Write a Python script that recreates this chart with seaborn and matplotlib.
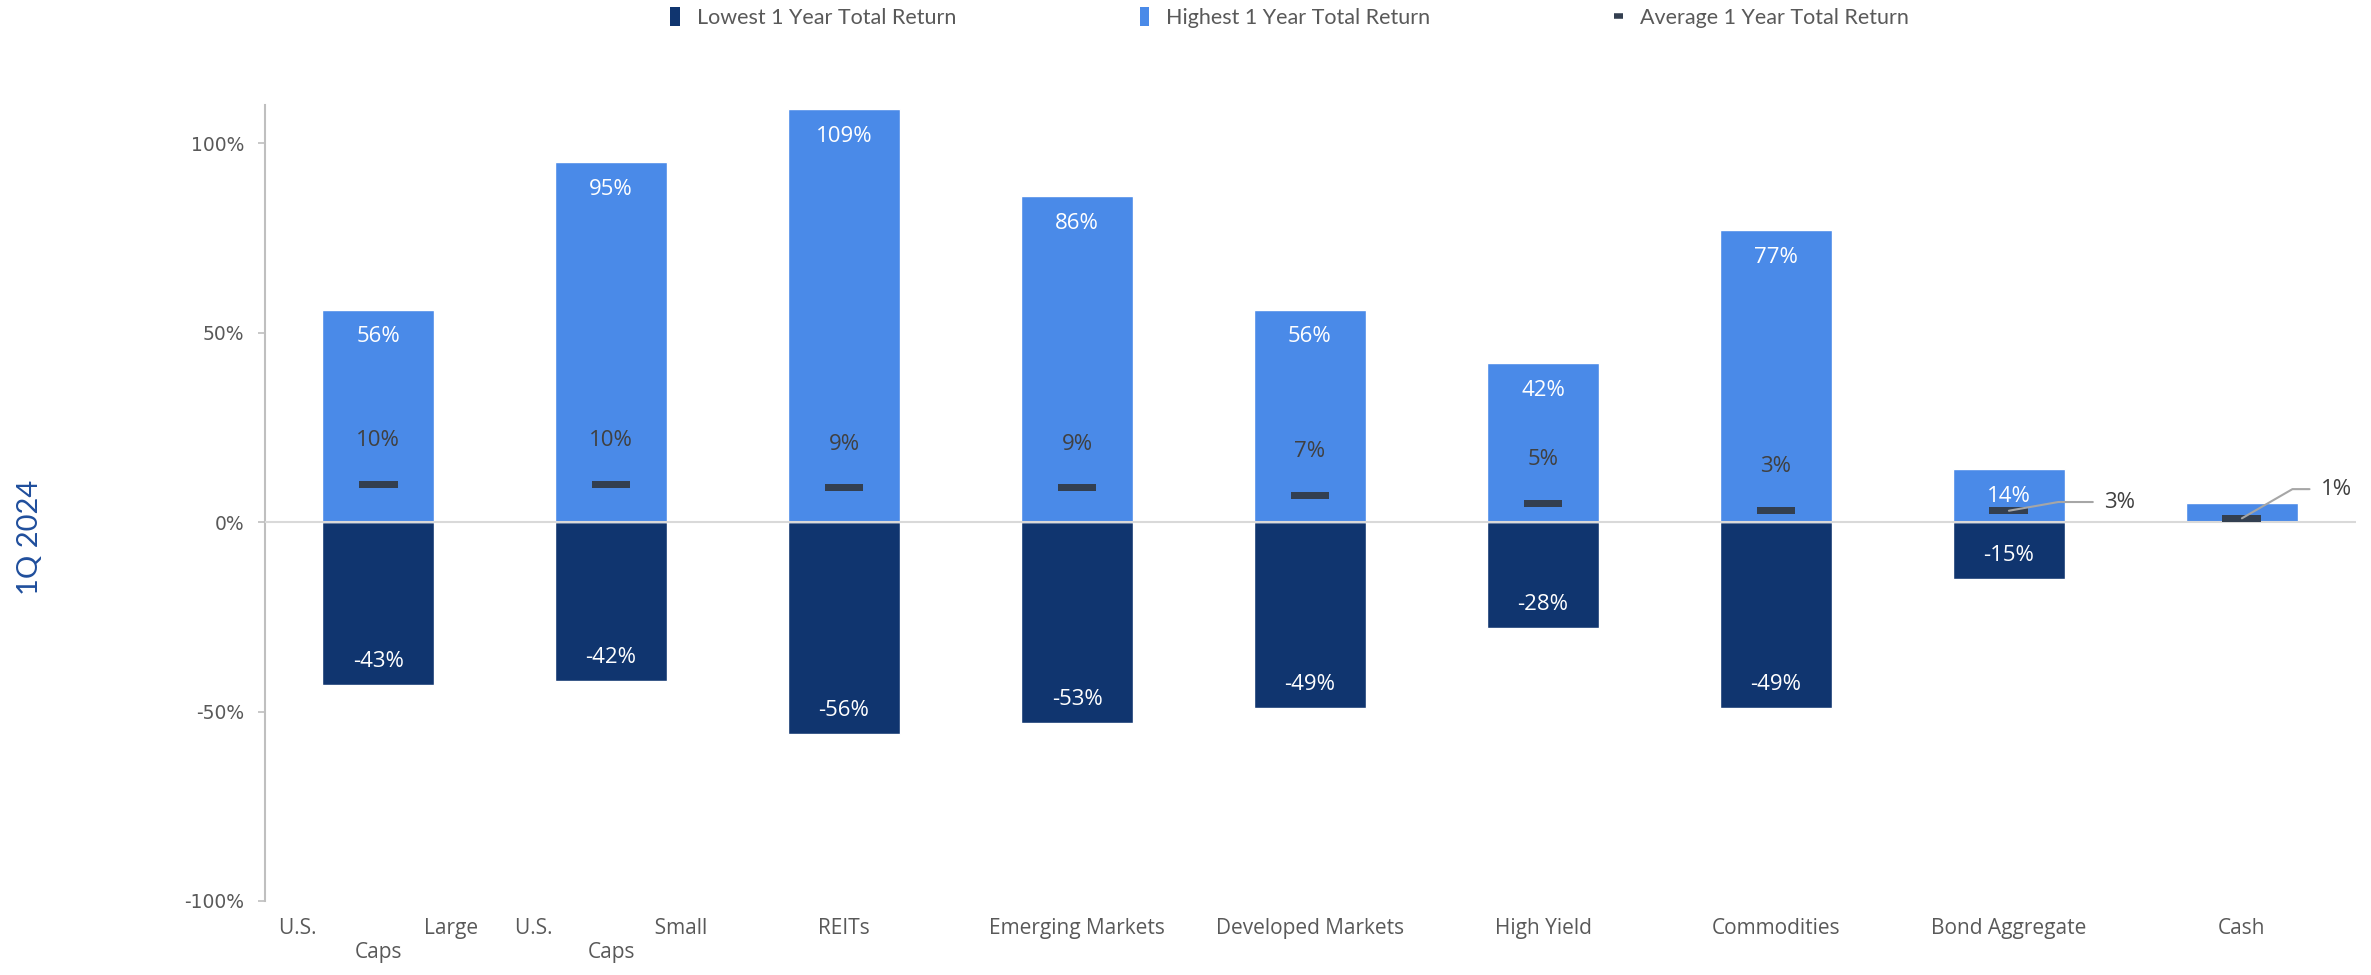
import matplotlib
matplotlib.use("Agg")
import matplotlib.pyplot as plt
from matplotlib.patches import Patch
from matplotlib.lines import Line2D
from matplotlib.ticker import FuncFormatter
import seaborn as sns
import pandas as pd

# Asset classes and their 1-year total return ranges (%)
categories = [
    "U.S. Large Caps", "U.S. Small Caps", "REITs", "Emerging Markets",
    "Developed Markets", "High Yield", "Commodities", "Bond Aggregate", "Cash",
]
tick_labels = [
    "U.S." + " " * 20 + "Large\nCaps",
    "U.S." + " " * 19 + "Small\nCaps",
    "REITs", "Emerging Markets", "Developed Markets", "High Yield",
    "Commodities", "Bond Aggregate", "Cash",
]
highest = [56, 95, 109, 86, 56, 42, 77, 14, 5]
lowest = [-43, -42, -56, -53, -49, -28, -49, -15, 0]
average = [10, 10, 9, 9, 7, 5, 3, 3, 1]

DARK = "#10356F"
LIGHT = "#4A8AE8"
MARK = "#333F50"
GRID = "#D9D9D9"
AXIS = "#BFBFBF"
TXT = "#595959"
LBL = "#404040"

df = pd.DataFrame({"category": categories, "high": highest,
                   "low": lowest, "avg": average})

sns.set_theme(style="white")
plt.rcParams["font.family"] = ["Open Sans", "DejaVu Sans"]

fig = plt.figure(figsize=(23.71, 9.75), dpi=100)
ax = fig.add_axes([0.1118, 0.0759, 0.8819, 0.8161])

sns.barplot(data=df, x="category", y="low", color=DARK, saturation=1,
            width=0.48, ax=ax, zorder=2)
sns.barplot(data=df, x="category", y="high", color=LIGHT, saturation=1,
            width=0.48, ax=ax, zorder=2)

# average marker: a short flat bar
bar_marker = [(-1, -0.18), (1, -0.18), (1, 0.18), (-1, 0.18)]
sns.scatterplot(data=df, x="category", y="avg", marker=bar_marker, s=28 ** 2,
                color=MARK, edgecolor="none", ax=ax, zorder=4, legend=False)

ax.axhline(0, color=GRID, lw=1.5, zorder=3)

ax.set_xlim(-0.485, 8.49)
ax.set_ylim(-100, 110)
ax.set_yticks([-100, -50, 0, 50, 100])
ax.yaxis.set_major_formatter(FuncFormatter(lambda v, p: f"{v:.0f}%"))
ax.set_xticks(range(len(categories)))
ax.set_xticklabels(tick_labels, multialignment="center")
ax.set_xlabel("")
ax.set_ylabel("")

for s in ("top", "right", "bottom"):
    ax.spines[s].set_visible(False)
ax.spines["left"].set_color(AXIS)
ax.spines["left"].set_linewidth(1.5)
ax.tick_params(axis="y", left=True, length=5, width=1.2, color=AXIS,
               pad=10, labelsize=13.5, labelcolor=TXT,
               labelfontfamily="DejaVu Sans")
ax.tick_params(axis="x", bottom=False, length=0, pad=12, labelsize=15,
               labelcolor=TXT)

# data labels
for i, (h, lo, a) in enumerate(zip(highest, lowest, average)):
    if i < len(categories) - 1:
        ax.annotate(f"{h}%", (i, h), xytext=(0, -19.5), textcoords="offset points",
                    ha="center", va="center", color="white", fontsize=16, zorder=5)
    if lo != 0:
        ax.annotate(f"{lo}%", (i, lo), xytext=(0, 17), textcoords="offset points",
                    ha="center", va="center", color="white", fontsize=16, zorder=5)
    if i < 7:
        ax.annotate(f"{a}%", (i, a), xytext=(0, 31.5), textcoords="offset points",
                    ha="center", va="center", color=LBL, fontsize=16, zorder=5)

# callouts for the two short bars
callouts = {7: (7.41, 5.3, 10), 8: (8.34, 8.7, 30)}
for i, (tx, ty, ang) in callouts.items():
    ax.annotate(f"{average[i]}%", (i, average[i]), xytext=(tx, ty),
                textcoords="data", ha="left", va="center", color=LBL,
                fontsize=16, zorder=5,
                arrowprops=dict(arrowstyle="-", color="#A6A6A6", lw=1.5,
                                relpos=(0, 0.5), shrinkA=6, shrinkB=0,
                                connectionstyle=f"angle,angleA=0,angleB={ang},rad=0"))

fig.text(0.0127, 0.449, "1Q 2024", rotation=90, ha="center", va="center",
         color="#1F4E9C", fontsize=21, family=["Lato", "DejaVu Sans"])

handles = [
    Patch(facecolor=DARK, edgecolor="none"),
    Patch(facecolor=LIGHT, edgecolor="none"),
    Line2D([], [], color=MARK, lw=4, solid_capstyle="butt"),
]
labels = ["Lowest 1 Year Total Return", "Highest 1 Year Total Return",
          "Average 1 Year Total Return"]
leg = fig.legend(handles, labels, loc="center", bbox_to_anchor=(0.544, 0.982),
                 ncol=3, frameon=False, handlelength=0.45, handleheight=1.0,
                 handletextpad=0.8, columnspacing=8.5, prop={"size": 15.5})
for t in leg.get_texts():
    t.set_color(TXT)
    t.set_family(["Lato", "DejaVu Sans"])

fig.savefig("out.png", dpi=100)
